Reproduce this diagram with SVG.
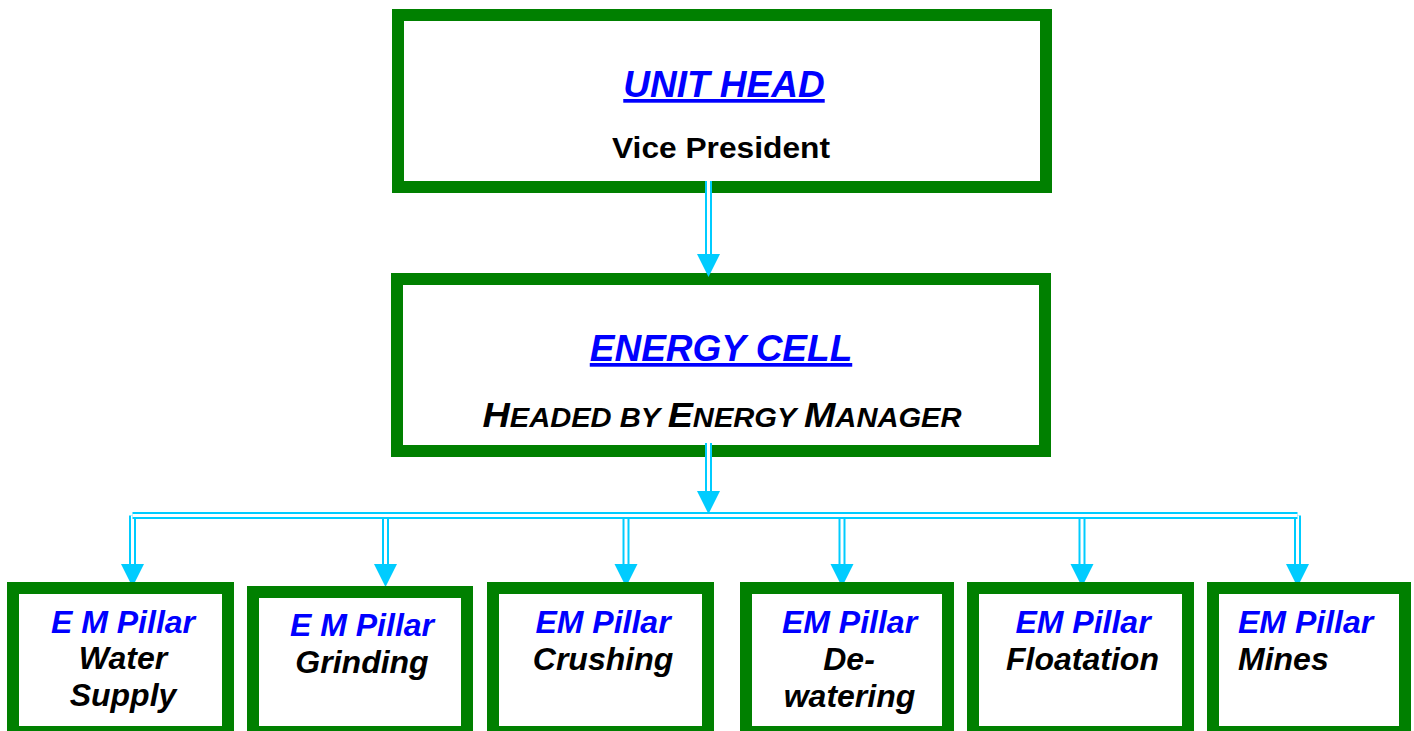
<svg xmlns="http://www.w3.org/2000/svg" xmlns:xlink="http://www.w3.org/1999/xlink" width="1414" height="731" viewBox="0 0 1414 731">
<style>
.box{fill:#fff;stroke:#008000;stroke-width:12}
.t{font-family:"Liberation Sans",Arial,sans-serif;font-weight:bold}
.bi{font-style:italic;fill:#0000ff}
.k{fill:#000}
.ki{font-style:italic;fill:#000}
.cy{fill:none;stroke:#00ccff;stroke-width:7}
.wh{fill:none;stroke:#fff;stroke-width:3}
.ah{fill:#00ccff}
</style>
<defs>
<path id="ah" d="M-11.5,0 L11.5,0 L0,23 Z"/>
</defs>
<rect width="1414" height="731" fill="#fff"/>

<g id="unit-head">
<rect class="box" x="398" y="15" width="648" height="172"/>
<text class="t bi" x="724" y="97" font-size="37" text-anchor="middle" text-decoration="underline">UNIT HEAD</text>
<text class="t k" x="721" y="158" font-size="30" text-anchor="middle" textLength="218" lengthAdjust="spacingAndGlyphs">Vice President</text>
</g>

<g id="energy-cell">
<rect class="box" x="397" y="279" width="648" height="172"/>
<text class="t bi" x="721" y="361" font-size="37" text-anchor="middle" text-decoration="underline">ENERGY CELL</text>
<text class="t ki" x="722" y="427" text-anchor="middle" textLength="479" lengthAdjust="spacingAndGlyphs"><tspan font-size="35">H</tspan><tspan font-size="27">EADED BY </tspan><tspan font-size="35">E</tspan><tspan font-size="27">NERGY </tspan><tspan font-size="35">M</tspan><tspan font-size="27">ANAGER</tspan></text>
</g>

<g id="connectors">
<g class="cy">
<path d="M708.5,181 V256"/>
<path d="M708.5,443 V493"/>
<path d="M132.5,515.5 V565"/>
<path d="M385.5,515.5 V565"/>
<path d="M626,515.5 V565"/>
<path d="M842,515.5 V565"/>
<path d="M1082,515.5 V565"/>
<path d="M1297.5,515.5 V565"/>
</g>
<g class="wh">
<path d="M708.5,181 V256"/>
<path d="M708.5,443 V493"/>
<path d="M132.5,515.5 V565"/>
<path d="M385.5,515.5 V565"/>
<path d="M626,515.5 V565"/>
<path d="M842,515.5 V565"/>
<path d="M1082,515.5 V565"/>
<path d="M1297.5,515.5 V565"/>
</g>
<path class="cy" d="M132.5,515.5 H1297.5"/>
<path class="wh" d="M132.5,515.5 H1297.5"/>
<g class="ah">
<use xlink:href="#ah" x="708.5" y="254"/>
<use xlink:href="#ah" x="708.5" y="491"/>
<use xlink:href="#ah" x="132.5" y="564"/>
<use xlink:href="#ah" x="385.5" y="564"/>
<use xlink:href="#ah" x="626" y="564"/>
<use xlink:href="#ah" x="842" y="564"/>
<use xlink:href="#ah" x="1082" y="564"/>
<use xlink:href="#ah" x="1297.5" y="564"/>
</g>
</g>

<g id="pillar-water-supply">
<rect class="box" x="13" y="588" width="215" height="144"/>
<text class="t bi" x="123" y="633" font-size="32" text-anchor="middle">E M Pillar</text>
<text class="t ki" x="123" y="669" font-size="32" text-anchor="middle">Water</text>
<text class="t ki" x="123" y="706" font-size="32" text-anchor="middle">Supply</text>
</g>

<g id="pillar-grinding">
<rect class="box" x="253" y="592" width="214" height="140"/>
<text class="t bi" x="362" y="636" font-size="32" text-anchor="middle">E M Pillar</text>
<text class="t ki" x="362" y="673" font-size="32" text-anchor="middle">Grinding</text>
</g>

<g id="pillar-crushing">
<rect class="box" x="493" y="588" width="215" height="144"/>
<text class="t bi" x="603" y="633" font-size="32" text-anchor="middle">EM Pillar</text>
<text class="t ki" x="603" y="670" font-size="32" text-anchor="middle">Crushing</text>
</g>

<g id="pillar-dewatering">
<rect class="box" x="746" y="588" width="202" height="144"/>
<text class="t bi" x="849.5" y="633" font-size="32" text-anchor="middle">EM Pillar</text>
<text class="t ki" x="849" y="670" font-size="32" text-anchor="middle">De-</text>
<text class="t ki" x="849.5" y="707" font-size="32" text-anchor="middle">watering</text>
</g>

<g id="pillar-floatation">
<rect class="box" x="973" y="588" width="215" height="144"/>
<text class="t bi" x="1083" y="633" font-size="32" text-anchor="middle">EM Pillar</text>
<text class="t ki" x="1082.5" y="670" font-size="32" text-anchor="middle">Floatation</text>
</g>

<g id="pillar-mines">
<rect class="box" x="1213" y="588" width="192" height="144"/>
<text class="t bi" x="1238" y="633" font-size="32">EM Pillar</text>
<text class="t ki" x="1238" y="670" font-size="32">Mines</text>
</g>
</svg>
